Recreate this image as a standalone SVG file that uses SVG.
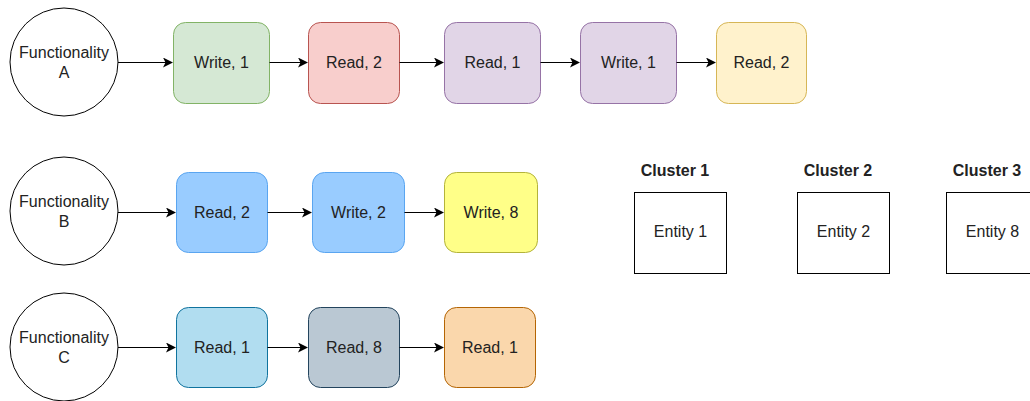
<svg xmlns="http://www.w3.org/2000/svg" width="1030" height="401" viewBox="0 0 1030 401">
  <defs>
    <marker id="arrow" viewBox="0 0 10 10" refX="9" refY="5" markerWidth="10" markerHeight="10" markerUnits="userSpaceOnUse" orient="auto">
      <path d="M0,0 L10,5 L0,10 L2.5,5 Z" fill="#000"/>
    </marker>
  </defs>
  <style>
    text { font-family: "Liberation Sans", Arial, sans-serif; font-size: 16px; fill: #222; text-anchor: middle; }
    .title { font-weight: bold; }
    .circle { fill: #fff; stroke: #000; stroke-width: 1; }
    .step { stroke-width: 1; }
    .entity { fill: #fff; stroke: #000; stroke-width: 1; }
    .edge { fill: none; stroke: #000; stroke-width: 1; marker-end: url(#arrow); }
  </style>
  <rect width="1030" height="401" fill="#fff"/>

  <!-- Row A -->
  <g id="funcA">
    <circle class="circle" cx="64" cy="62" r="54"/>
    <text x="64" y="58">Functionality</text>
    <text x="64" y="78">A</text>
  </g>
  <g id="a1">
    <rect class="step" x="173.5" y="22.5" width="96" height="81" rx="12" fill="#d5e8d4" stroke="#82b366"/>
    <text x="221.5" y="68">Write, 1</text>
  </g>
  <g id="a2">
    <rect class="step" x="308.5" y="22.5" width="91" height="81" rx="12" fill="#f8cecc" stroke="#b85450"/>
    <text x="354" y="68">Read, 2</text>
  </g>
  <g id="a3">
    <rect class="step" x="444.5" y="22.5" width="96" height="81" rx="12" fill="#e1d5e7" stroke="#9673a6"/>
    <text x="492.5" y="68">Read, 1</text>
  </g>
  <g id="a4">
    <rect class="step" x="580.5" y="22.5" width="96" height="81" rx="12" fill="#e1d5e7" stroke="#9673a6"/>
    <text x="628.5" y="68">Write, 1</text>
  </g>
  <g id="a5">
    <rect class="step" x="716.5" y="22.5" width="90" height="81" rx="12" fill="#fff2cc" stroke="#d6b656"/>
    <text x="761.5" y="68">Read, 2</text>
  </g>

  <!-- Row B -->
  <g id="funcB">
    <circle class="circle" cx="64" cy="211" r="54"/>
    <text x="64" y="207">Functionality</text>
    <text x="64" y="227">B</text>
  </g>
  <g id="b1">
    <rect class="step" x="176.5" y="172.5" width="91" height="80" rx="12" fill="#99ccff" stroke="#5aa5f0"/>
    <text x="222" y="218">Read, 2</text>
  </g>
  <g id="b2">
    <rect class="step" x="312.5" y="172.5" width="92" height="80" rx="12" fill="#99ccff" stroke="#5aa5f0"/>
    <text x="358.5" y="218">Write, 2</text>
  </g>
  <g id="b3">
    <rect class="step" x="444.5" y="172.5" width="93" height="80" rx="12" fill="#ffff88" stroke="#b3b33a"/>
    <text x="491" y="218">Write, 8</text>
  </g>

  <!-- Row C -->
  <g id="funcC">
    <circle class="circle" cx="64" cy="347" r="54"/>
    <text x="64" y="343">Functionality</text>
    <text x="64" y="363">C</text>
  </g>
  <g id="c1">
    <rect class="step" x="176.5" y="307.5" width="91" height="80" rx="12" fill="#b1ddf0" stroke="#10739e"/>
    <text x="222" y="353">Read, 1</text>
  </g>
  <g id="c2">
    <rect class="step" x="308.5" y="307.5" width="91" height="80" rx="12" fill="#bac8d3" stroke="#23445d"/>
    <text x="354" y="353">Read, 8</text>
  </g>
  <g id="c3">
    <rect class="step" x="444.5" y="307.5" width="91" height="80" rx="12" fill="#fad7ac" stroke="#b46504"/>
    <text x="490" y="353">Read, 1</text>
  </g>

  <!-- Clusters -->
  <g id="cluster1">
    <text class="title" x="675" y="176">Cluster 1</text>
    <rect class="entity" x="634.5" y="192.5" width="92" height="81"/>
    <text x="680.5" y="237">Entity 1</text>
  </g>
  <g id="cluster2">
    <text class="title" x="838" y="176">Cluster 2</text>
    <rect class="entity" x="797.5" y="192.5" width="92" height="81"/>
    <text x="843.5" y="237">Entity 2</text>
  </g>
  <g id="cluster3">
    <text class="title" x="987" y="176">Cluster 3</text>
    <rect class="entity" x="946.5" y="192.5" width="92" height="81"/>
    <text x="992.5" y="237">Entity 8</text>
  </g>

  <!-- Connectors -->
  <g id="edges">
    <path class="edge" d="M118,62.5 H172"/>
    <path class="edge" d="M269.5,62.5 H307"/>
    <path class="edge" d="M399.5,62.5 H443"/>
    <path class="edge" d="M540.5,62.5 H579"/>
    <path class="edge" d="M676.5,62.5 H715"/>

    <path class="edge" d="M118,212.5 H175"/>
    <path class="edge" d="M267.5,212.5 H311"/>
    <path class="edge" d="M404.5,212.5 H443"/>

    <path class="edge" d="M118,347.5 H175"/>
    <path class="edge" d="M267.5,347.5 H307"/>
    <path class="edge" d="M399.5,347.5 H443"/>
  </g>
</svg>
